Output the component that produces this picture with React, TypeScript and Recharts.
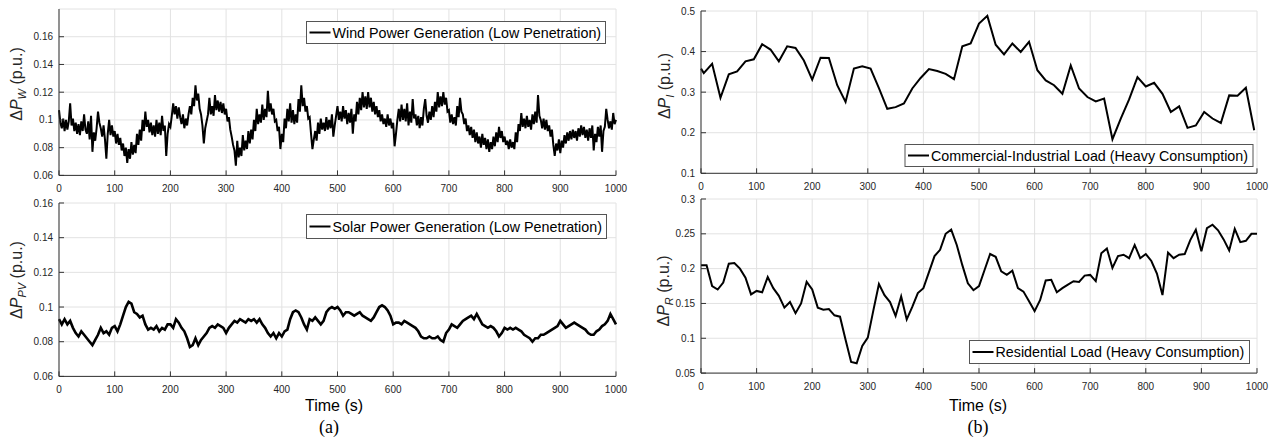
import React from "react";
import { LineChart, Line, XAxis, YAxis, CartesianGrid } from "recharts";

// time axis ticks (s)
const timeTicks = [0, 100, 200, 300, 400, 500, 600, 700, 800, 900, 1000];

// y ticks per panel
const windTicks = [0.06, 0.08, 0.1, 0.12, 0.14, 0.16];
const solarTicks = [0.06, 0.08, 0.1, 0.12, 0.14, 0.16];
const commercialTicks = [0.1, 0.2, 0.3, 0.4, 0.5];
const residentialTicks = [0.05, 0.1, 0.15, 0.2, 0.25, 0.3];

// sample instants
const windTime = Array.from({ length: 401 }, (_, i) => i * 2.5);
const solarTime = Array.from({ length: 201 }, (_, i) => i * 5);
const commercialTime = [0, ...Array.from({ length: 67 }, (_, i) => 5 + i * 15)];
const residentialTime = Array.from({ length: 101 }, (_, i) => i * 10);

// ΔP_W, every 2.5 s (one row = 50 s)
const windValues = [
  0.107, 0.098, 0.094, 0.101, 0.092, 0.100, 0.093, 0.099, 0.112, 0.096, 0.101, 0.092, 0.098, 0.090, 0.097, 0.089, 0.099, 0.092, 0.104, 0.093,
  0.090, 0.099, 0.086, 0.103, 0.077, 0.091, 0.085, 0.094, 0.106, 0.098, 0.094, 0.088, 0.096, 0.086, 0.072, 0.090, 0.100, 0.089, 0.096, 0.088,
  0.092, 0.083, 0.090, 0.082, 0.087, 0.078, 0.083, 0.074, 0.080, 0.069, 0.079, 0.072, 0.084, 0.075, 0.082, 0.076, 0.090, 0.082, 0.093, 0.085,
  0.100, 0.092, 0.106, 0.095, 0.100, 0.091, 0.098, 0.089, 0.096, 0.088, 0.100, 0.090, 0.098, 0.089, 0.103, 0.092, 0.096, 0.074, 0.090, 0.097,
  0.095, 0.103, 0.112, 0.104, 0.110, 0.101, 0.109, 0.102, 0.097, 0.104, 0.094, 0.101, 0.096, 0.104, 0.110, 0.104, 0.116, 0.110, 0.125, 0.114,
  0.119, 0.108, 0.104, 0.096, 0.083, 0.094, 0.099, 0.104, 0.116, 0.104, 0.110, 0.103, 0.118, 0.107, 0.114, 0.106, 0.113, 0.105, 0.112, 0.104,
  0.108, 0.099, 0.102, 0.093, 0.088, 0.082, 0.078, 0.067, 0.085, 0.073, 0.080, 0.074, 0.089, 0.078, 0.085, 0.079, 0.092, 0.083, 0.093, 0.086,
  0.100, 0.092, 0.108, 0.097, 0.104, 0.098, 0.111, 0.100, 0.108, 0.102, 0.121, 0.106, 0.112, 0.104, 0.108, 0.099, 0.100, 0.092, 0.095, 0.079,
  0.090, 0.084, 0.101, 0.094, 0.108, 0.099, 0.112, 0.098, 0.107, 0.097, 0.104, 0.098, 0.115, 0.106, 0.125, 0.110, 0.116, 0.106, 0.110, 0.101,
  0.102, 0.090, 0.079, 0.086, 0.092, 0.085, 0.098, 0.090, 0.101, 0.093, 0.098, 0.092, 0.102, 0.093, 0.100, 0.094, 0.104, 0.088, 0.096, 0.103,
  0.110, 0.100, 0.106, 0.099, 0.110, 0.101, 0.107, 0.097, 0.105, 0.098, 0.108, 0.090, 0.104, 0.099, 0.113, 0.104, 0.116, 0.107, 0.120, 0.109,
  0.117, 0.108, 0.120, 0.109, 0.116, 0.106, 0.113, 0.104, 0.110, 0.102, 0.107, 0.099, 0.104, 0.097, 0.101, 0.095, 0.104, 0.096, 0.101, 0.094,
  0.098, 0.081, 0.090, 0.100, 0.108, 0.099, 0.111, 0.100, 0.108, 0.099, 0.112, 0.096, 0.106, 0.098, 0.115, 0.101, 0.104, 0.096, 0.103, 0.094,
  0.102, 0.096, 0.108, 0.115, 0.103, 0.098, 0.106, 0.100, 0.110, 0.102, 0.113, 0.106, 0.120, 0.109, 0.117, 0.110, 0.120, 0.111, 0.116, 0.106,
  0.107, 0.098, 0.104, 0.097, 0.102, 0.096, 0.110, 0.102, 0.116, 0.106, 0.104, 0.097, 0.101, 0.092, 0.096, 0.089, 0.095, 0.087, 0.093, 0.084,
  0.091, 0.083, 0.088, 0.080, 0.090, 0.082, 0.087, 0.079, 0.086, 0.077, 0.084, 0.079, 0.088, 0.081, 0.091, 0.084, 0.095, 0.087, 0.092, 0.084,
  0.088, 0.082, 0.085, 0.079, 0.086, 0.080, 0.084, 0.079, 0.091, 0.084, 0.097, 0.092, 0.105, 0.095, 0.101, 0.094, 0.103, 0.095, 0.100, 0.093,
  0.104, 0.097, 0.106, 0.098, 0.118, 0.103, 0.100, 0.094, 0.101, 0.093, 0.100, 0.092, 0.096, 0.088, 0.093, 0.082, 0.074, 0.083, 0.078, 0.086,
  0.076, 0.085, 0.080, 0.089, 0.083, 0.091, 0.085, 0.092, 0.086, 0.093, 0.087, 0.092, 0.085, 0.094, 0.088, 0.096, 0.089, 0.095, 0.087, 0.093,
  0.085, 0.094, 0.087, 0.096, 0.078, 0.090, 0.084, 0.095, 0.088, 0.096, 0.077, 0.092, 0.095, 0.108, 0.100, 0.094, 0.099, 0.093, 0.105, 0.097,
  0.100,
];

// ΔP_PV, every 5 s
const solarValues = [
  0.093, 0.090, 0.093, 0.090, 0.092, 0.088, 0.085, 0.083, 0.086, 0.084,
  0.082, 0.080, 0.078, 0.081, 0.084, 0.088, 0.085, 0.086, 0.084, 0.088,
  0.089, 0.086, 0.090, 0.095, 0.100, 0.103, 0.102, 0.097, 0.096, 0.094,
  0.095, 0.090, 0.087, 0.088, 0.087, 0.089, 0.086, 0.088, 0.087, 0.090,
  0.090, 0.088, 0.093, 0.091, 0.088, 0.086, 0.082, 0.077, 0.078, 0.082,
  0.078, 0.081, 0.083, 0.085, 0.088, 0.089, 0.088, 0.090, 0.089, 0.088,
  0.085, 0.088, 0.090, 0.092, 0.091, 0.093, 0.092, 0.091, 0.093, 0.092,
  0.093, 0.091, 0.093, 0.090, 0.088, 0.085, 0.083, 0.085, 0.082, 0.085,
  0.083, 0.086, 0.087, 0.093, 0.097, 0.098, 0.097, 0.094, 0.090, 0.087,
  0.093, 0.092, 0.094, 0.092, 0.090, 0.092, 0.097, 0.099, 0.100, 0.099,
  0.100, 0.098, 0.095, 0.097, 0.097, 0.096, 0.095, 0.096, 0.097, 0.095,
  0.094, 0.093, 0.092, 0.094, 0.097, 0.100, 0.101, 0.100, 0.098, 0.095,
  0.090, 0.091, 0.091, 0.090, 0.092, 0.091, 0.090, 0.089, 0.088, 0.086,
  0.083, 0.082, 0.082, 0.083, 0.082, 0.082, 0.083, 0.081, 0.080, 0.085,
  0.087, 0.090, 0.089, 0.088, 0.090, 0.092, 0.093, 0.094, 0.095, 0.093,
  0.096, 0.093, 0.090, 0.089, 0.088, 0.089, 0.088, 0.086, 0.083, 0.085,
  0.088, 0.087, 0.088, 0.087, 0.088, 0.087, 0.086, 0.084, 0.083, 0.082,
  0.080, 0.082, 0.082, 0.084, 0.084, 0.085, 0.086, 0.087, 0.088, 0.089,
  0.092, 0.090, 0.088, 0.089, 0.090, 0.091, 0.090, 0.089, 0.088, 0.087,
  0.085, 0.084, 0.084, 0.086, 0.087, 0.089, 0.090, 0.092, 0.096, 0.093,
  0.090,
];

// ΔP_I
const commercialValues = [
  0.358,
  0.347, 0.370, 0.286, 0.344, 0.351, 0.376, 0.381, 0.418, 0.405, 0.376,
  0.413, 0.409, 0.378, 0.331, 0.385, 0.384, 0.317, 0.276, 0.358, 0.364,
  0.358, 0.310, 0.259, 0.263, 0.272, 0.309, 0.335, 0.357, 0.352, 0.345,
  0.332, 0.413, 0.420, 0.469, 0.488, 0.417, 0.393, 0.420, 0.399, 0.424,
  0.354, 0.329, 0.317, 0.296, 0.366, 0.309, 0.288, 0.277, 0.284, 0.184,
  0.235, 0.282, 0.337, 0.314, 0.323, 0.296, 0.251, 0.265, 0.212, 0.218,
  0.251, 0.235, 0.224, 0.292, 0.291, 0.311, 0.206,
];

// ΔP_R, every 10 s
const residentialValues = [
  0.205, 0.205, 0.175, 0.170, 0.180, 0.207, 0.208, 0.200, 0.187, 0.163,
  0.168, 0.166, 0.188, 0.172, 0.161, 0.144, 0.152, 0.136, 0.150, 0.181,
  0.170, 0.144, 0.141, 0.142, 0.133, 0.131, 0.098, 0.066, 0.064, 0.089,
  0.101, 0.140, 0.178, 0.162, 0.152, 0.132, 0.160, 0.127, 0.145, 0.165,
  0.172, 0.195, 0.218, 0.227, 0.250, 0.256, 0.234, 0.205, 0.179, 0.169,
  0.175, 0.198, 0.221, 0.217, 0.196, 0.191, 0.197, 0.172, 0.167, 0.153,
  0.139, 0.155, 0.183, 0.184, 0.166, 0.172, 0.177, 0.182, 0.181, 0.190,
  0.191, 0.182, 0.222, 0.229, 0.201, 0.218, 0.220, 0.215, 0.234, 0.215,
  0.221, 0.211, 0.193, 0.162, 0.223, 0.215, 0.220, 0.221, 0.241, 0.256,
  0.225, 0.258, 0.263, 0.255, 0.242, 0.226, 0.257, 0.238, 0.240, 0.250,
  0.250,
];

const toRows = (time: number[], values: number[]) =>
  time.map((t, i) => ({ t, v: values[i] }));

const FONT = "'Liberation Sans', Arial, sans-serif";
const AXIS = "#333333";
const TICK_IN = -5; // MATLAB-style inward ticks

type PanelProps = {
  x: number;
  y: number;
  w: number;
  h: number;
  data: { t: number; v: number }[];
  domain: [number, number];
  ticks: number[];
  width?: number;
};

function Panel({ x, y, w, h, data, domain, ticks, width = 2 }: PanelProps) {
  const ML = 60, MT = 5, MR = 12, XH = 25;
  const tickStyle = { fontSize: 10, fill: "#262626", fontFamily: FONT };
  return (
    <div style={{ position: "absolute", left: x - ML, top: y - MT }}>
      <LineChart
        width={w + ML + MR}
        height={h + MT + XH}
        data={data}
        margin={{ top: MT, right: MR, left: 0, bottom: 0 }}
      >
        <CartesianGrid stroke="#e2e2e2" />
        <XAxis
          dataKey="t"
          type="number"
          domain={[0, 1000]}
          ticks={timeTicks}
          height={XH}
          tickSize={TICK_IN}
          tickMargin={15}
          tick={tickStyle}
          stroke={AXIS}
          interval={0}
        />
        <XAxis
          xAxisId="top"
          orientation="top"
          dataKey="t"
          type="number"
          domain={[0, 1000]}
          ticks={timeTicks}
          height={0}
          tick={false}
          tickSize={TICK_IN}
          stroke={AXIS}
          interval={0}
        />
        <YAxis
          type="number"
          domain={domain}
          ticks={ticks}
          width={ML}
          tickSize={TICK_IN}
          tickMargin={11}
          tick={tickStyle}
          stroke={AXIS}
          interval={0}
          allowDataOverflow
        />
        <YAxis
          yAxisId="right"
          orientation="right"
          type="number"
          domain={domain}
          ticks={ticks}
          width={0}
          tick={false}
          tickSize={TICK_IN}
          stroke={AXIS}
          interval={0}
          allowDataOverflow
        />
        <Line
          type="linear"
          dataKey="v"
          stroke="#000"
          strokeWidth={width}
          dot={false}
          isAnimationActive={false}
        />
      </LineChart>
    </div>
  );
}

function YLabel({ x, y, sub }: { x: number; y: number; sub: string }) {
  return (
    <text transform={`translate(${x},${y}) rotate(-90)`} textAnchor="middle" fontSize={16} fontFamily={FONT} fill="#262626">
      <tspan>Δ</tspan>
      <tspan fontStyle="italic">P</tspan>
      <tspan fontStyle="italic" fontSize={11} dy={4}>{sub}</tspan>
      <tspan dy={-4}> (p.u.)</tspan>
    </text>
  );
}

function LegendBox({ x, y, w, h, label }: { x: number; y: number; w: number; h: number; label: string }) {
  return (
    <g>
      <rect x={x} y={y} width={w} height={h} fill="#fff" stroke="#555" strokeWidth={1} />
      <line x1={x + 3} x2={x + 24} y1={y + h / 2} y2={y + h / 2} stroke="#000" strokeWidth={2} />
      <text x={x + 26} y={y + h / 2 + 5} fontSize={14.3} fontFamily={FONT} fill="#000">{label}</text>
    </g>
  );
}

export default function App() {
  return (
    <div style={{ position: "absolute", left: 0, top: 0, width: 1276, height: 444, background: "#fff" }}>
      <Panel x={58.7} y={9.3} w={557} h={166.4} data={toRows(windTime, windValues)} domain={[0.06, 0.18]} ticks={windTicks} />
      <Panel x={58.7} y={203.3} w={557} h={173.4} data={toRows(solarTime, solarValues)} domain={[0.06, 0.16]} ticks={solarTicks} width={2.6} />
      <Panel x={700.7} y={10.7} w={556} h={162.3} data={toRows(commercialTime, commercialValues)} domain={[0.1, 0.5]} ticks={commercialTicks} />
      <Panel x={700.7} y={199.2} w={556} h={174.1} data={toRows(residentialTime, residentialValues)} domain={[0.05, 0.3]} ticks={residentialTicks} />
      <svg width={1276} height={444} style={{ position: "absolute", left: 0, top: 0, pointerEvents: "none" }}>
        <YLabel x={22} y={84} sub="W" />
        <YLabel x={22} y={280} sub="PV" />
        <YLabel x={670} y={86} sub="I" />
        <YLabel x={669} y={291} sub="R" />
        <LegendBox x={306.5} y={21.5} w={299} h={22} label="Wind Power Generation (Low Penetration)" />
        <LegendBox x={306.5} y={214.5} w={300} h={24} label="Solar Power Generation (Low Penetration)" />
        <LegendBox x={905} y={144.5} w={348} h={22} label="Commercial-Industrial Load (Heavy Consumption)" />
        <LegendBox x={969.5} y={340.5} w={280} h={23} label="Residential Load (Heavy Consumption)" />
        <text x={334} y={411} textAnchor="middle" fontSize={16} fontFamily={FONT} fill="#000">Time (s)</text>
        <text x={978} y={411} textAnchor="middle" fontSize={16} fontFamily={FONT} fill="#000">Time (s)</text>
        <text x={329} y={433} textAnchor="middle" fontSize={18} fontFamily="'Liberation Serif', 'Times New Roman', serif" fill="#000">(a)</text>
        <text x={978} y={433} textAnchor="middle" fontSize={18} fontFamily="'Liberation Serif', 'Times New Roman', serif" fill="#000">(b)</text>
      </svg>
    </div>
  );
}
